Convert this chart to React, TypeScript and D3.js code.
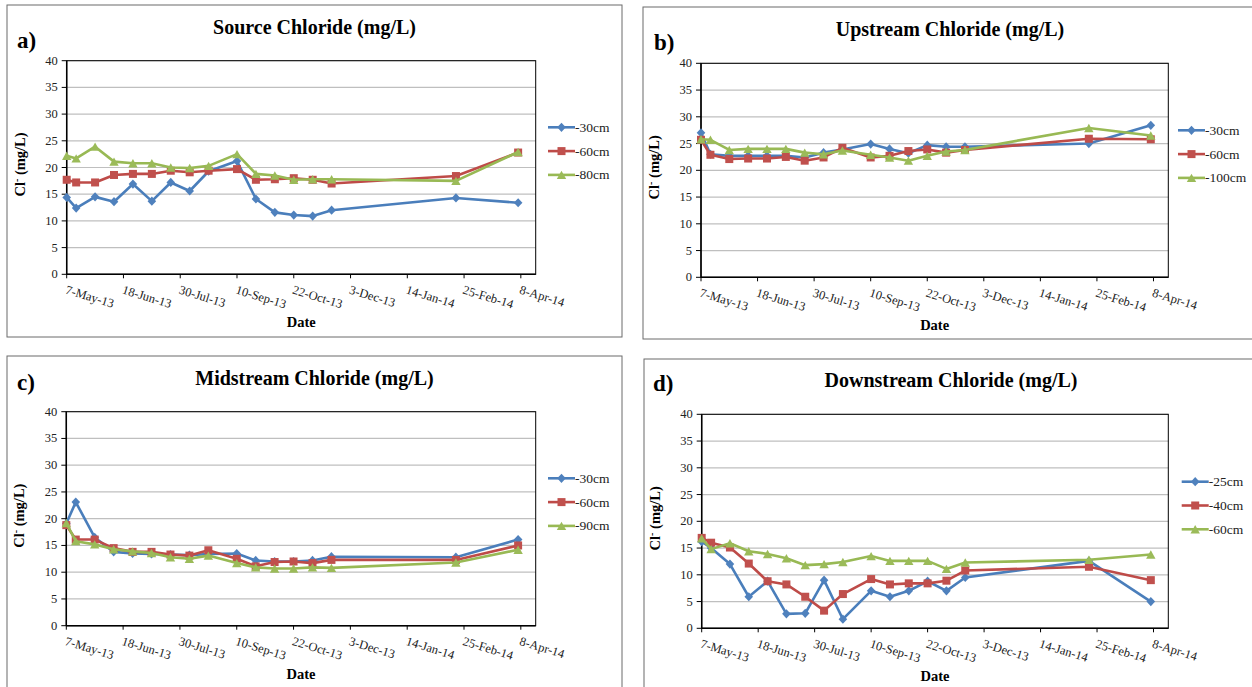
import React from "react";
import * as d3 from "d3";

// ---- data ----
const sampleDates = [
  "2013-05-07", "2013-05-14", "2013-05-28", "2013-06-11", "2013-06-25", "2013-07-09",
  "2013-07-23", "2013-08-06", "2013-08-20", "2013-09-10", "2013-09-24", "2013-10-08",
  "2013-10-22", "2013-11-05", "2013-11-19", "2014-02-19", "2014-04-06",
];

const sourceDepths = ["-30cm", "-60cm", "-80cm"];
const source30 = [14.4, 12.4, 14.5, 13.6, 16.9, 13.7, 17.2, 15.6, 19.3, 21.2, 14.1, 11.6, 11.1, 10.9, 12.0, 14.3, 13.4];
const source60 = [17.7, 17.2, 17.2, 18.6, 18.8, 18.8, 19.4, 19.1, 19.4, 19.7, 17.7, 17.8, 18.0, 17.7, 17.0, 18.4, 22.8];
const source80 = [22.2, 21.7, 23.9, 21.1, 20.8, 20.8, 20.0, 19.9, 20.3, 22.5, 18.8, 18.5, 17.7, 17.8, 17.8, 17.5, 22.9];

const upDepths = ["-30cm", "-60cm", "-100cm"];
const up30 = [27.0, 23.0, 22.7, 22.7, 22.7, 22.7, 22.4, 23.3, 23.9, 24.9, 24.0, 23.2, 24.7, 24.4, 24.4, 25.0, 28.4];
const up60 = [25.7, 22.9, 22.1, 22.2, 22.2, 22.5, 21.8, 22.4, 24.2, 22.4, 22.7, 23.6, 23.9, 23.3, 23.8, 25.9, 25.8];
const up100 = [25.8, 25.7, 23.8, 24.0, 24.0, 24.0, 23.3, 23.0, 23.7, 22.9, 22.4, 21.8, 22.7, 23.5, 23.8, 27.9, 26.5];

const midDepths = ["-30cm", "-60cm", "-90cm"];
const mid30 = [19.1, 23.1, 16.5, 13.8, 13.5, 13.4, 13.3, 13.2, 13.4, 13.5, 12.2, 12.0, 12.0, 12.2, 12.9, 12.8, 16.1];
const mid60 = [18.8, 16.1, 16.1, 14.5, 13.8, 13.8, 13.3, 13.1, 14.1, 12.5, 11.1, 11.9, 12.0, 11.7, 12.3, 12.3, 15.0];
const mid90 = [19.2, 15.8, 15.2, 14.3, 13.9, 13.6, 12.8, 12.5, 13.1, 11.7, 10.9, 10.7, 10.7, 10.9, 10.8, 11.8, 14.2];

const downDepths = ["-25cm", "-40cm", "-60cm"];
const down25 = [16.2, 15.0, 12.0, 5.9, 8.8, 2.7, 2.8, 9.0, 1.7, 7.0, 5.9, 7.0, 8.8, 7.0, 9.5, 12.6, 5.0];
const down40 = [16.9, 16.0, 15.1, 12.1, 8.8, 8.2, 5.9, 3.3, 6.4, 9.2, 8.2, 8.4, 8.4, 8.9, 10.8, 11.5, 9.0];
const down60 = [16.8, 14.8, 15.9, 14.4, 13.9, 13.1, 11.8, 12.0, 12.4, 13.5, 12.6, 12.6, 12.6, 11.1, 12.3, 12.8, 13.8];

const yTicks = [0, 5, 10, 15, 20, 25, 30, 35, 40];
const axisStart = "2013-05-07";
const axisEnd = "2014-04-19";
const tickStepDays = 42;
const tickCount = 9;

// ---- layout/style ----
const FONT = "Liberation Serif, Times New Roman, Times, DejaVu Serif, serif";
const seriesStyle = [
  { line: "#4A7EBB", fill: "#4F81BD", shape: "diamond" },
  { line: "#BE4B48", fill: "#C0504D", shape: "square" },
  { line: "#98B954", fill: "#9BBB59", shape: "triangle" },
];

const panels = [
  {
    tag: "a)", title: "Source Chloride (mg/L)", depths: sourceDepths, series: [source30, source60, source80],
    border: [7, 5, 615, 332], plot: [66.7, 60.7, 535.7, 274.3], legend: [548, 127.3], tagPos: [17, 48],
  },
  {
    tag: "b)", title: "Upstream Chloride (mg/L)", depths: upDepths, series: [up30, up60, up100],
    border: [643, 7, 620, 332], plot: [701, 63.3, 1168.3, 277.3], legend: [1178, 130.3], tagPos: [654, 50],
  },
  {
    tag: "c)", title: "Midstream Chloride (mg/L)", depths: midDepths, series: [mid30, mid60, mid90],
    border: [7, 356, 615, 340], plot: [66.3, 411.7, 535.7, 625.7], legend: [548, 478.3], tagPos: [17, 390],
  },
  {
    tag: "d)", title: "Downstream Chloride (mg/L)", depths: downDepths, series: [down25, down40, down60],
    border: [644, 359, 620, 340], plot: [701.7, 414.3, 1168.3, 628.3], legend: [1181.7, 481.7], tagPos: [653, 391],
  },
];

const parse = d3.utcParse("%Y-%m-%d");
const fmt = d3.utcFormat("%-d-%b-%y");

function marker(shape: string, x: number, y: number, color: string, key?: any) {
  if (shape === "diamond") {
    const w = 4.3, h = 4.6;
    return <path key={key} d={`M${x},${y - h}L${x + w},${y}L${x},${y + h}L${x - w},${y}Z`} fill={color} />;
  }
  if (shape === "square") {
    const s = 4;
    return <rect key={key} x={x - s} y={y - s} width={2 * s} height={2 * s} fill={color} />;
  }
  const w = 4.7, h = 4.2;
  return <path key={key} d={`M${x},${y - h}L${x + w},${y + h}L${x - w},${y + h}Z`} fill={color} />;
}

function Panel({ p }: { p: any }) {
  const [bx, by, bw, bh] = p.border;
  const [x0, y0, x1, y1] = p.plot;
  const start = parse(axisStart)!;
  const end = parse(axisEnd)!;
  const x = d3.scaleUtc().domain([start, end]).range([x0, x1]);
  const y = d3.scaleLinear().domain([0, 40]).range([y1, y0]);
  const dates = sampleDates.map((d) => parse(d)!);
  const xTicks = d3.range(tickCount).map((i) => d3.utcDay.offset(start, i * tickStepDays));
  const line = d3.line<number>().x((_, i) => x(dates[i])).y((v) => y(v));
  const cx = (x0 + x1) / 2;
  const cy = (y0 + y1) / 2;
  return (
    <g>
      <rect x={bx} y={by} width={bw} height={bh} fill="#fff" stroke="#6b6b6b" strokeWidth={1} />
      <text x={p.tagPos[0]} y={p.tagPos[1]} fontWeight="bold" fontSize={23}>{p.tag}</text>
      <text x={bx + bw / 2 - (bw > 616 ? 3 : 0)} y={y0 - 27} textAnchor="middle" fontWeight="bold" fontSize={20}>{p.title}</text>
      {yTicks.filter((t) => t > 0).map((t) => (
        <line key={t} x1={x0} x2={x1} y1={y(t)} y2={y(t)} stroke="#BFBFBF" strokeWidth={1.2} />
      ))}
      <rect x={x0} y={y0} width={x1 - x0} height={y1 - y0} fill="none" stroke="#000" strokeWidth={1} />
      {yTicks.map((t) => (
        <g key={t}>
          <line x1={x0 - 5} x2={x0} y1={y(t)} y2={y(t)} stroke="#000" strokeWidth={1} />
          <text x={x0 - 9} y={y(t) + 4} textAnchor="end" fontSize={12.5} fill="#222">{t}</text>
        </g>
      ))}
      <line x1={x0} x2={x0} y1={y0} y2={y1} stroke="#000" strokeWidth={1.5} />
      <line x1={x0} x2={x1} y1={y1} y2={y1} stroke="#000" strokeWidth={1.5} />
      {xTicks.map((t, i) => (
        <g key={i}>
          <line x1={x(t)} x2={x(t)} y1={y1} y2={y1 + 4} stroke="#000" strokeWidth={1} />
          <text transform={`translate(${x(t) - 2},${y1 + 19}) rotate(17)`} fontSize={12.5} fill="#222">{fmt(t)}</text>
        </g>
      ))}
      {p.series.map((vals: number[], si: number) => (
        <g key={si}>
          <path d={line(vals) || ""} fill="none" stroke={seriesStyle[si].line} strokeWidth={2.6} strokeLinejoin="round" />
          {vals.map((v, i) => marker(seriesStyle[si].shape, x(dates[i]), y(v), seriesStyle[si].fill, i))}
        </g>
      ))}
      <text transform={`translate(${x0 - 42},${cy - 3}) rotate(-90)`} textAnchor="middle" fontWeight="bold" fontSize={14.5}>
        Cl<tspan dy={-5} fontSize={10}>-</tspan><tspan dy={5}> (mg/L)</tspan>
      </text>
      <text x={cx} y={y1 + 53} textAnchor="middle" fontWeight="bold" fontSize={14.5}>Date</text>
      {p.depths.map((d: string, i: number) => {
        const ly = p.legend[1] + i * 23.8;
        const lx = p.legend[0];
        return (
          <g key={d}>
            <line x1={lx} x2={lx + 27} y1={ly} y2={ly} stroke={seriesStyle[i].line} strokeWidth={2.6} />
            {marker(seriesStyle[i].shape, lx + 13.5, ly, seriesStyle[i].fill)}
            <text x={lx + 27} y={ly + 4.5} fontSize={13.5} fill="#222">{d}</text>
          </g>
        );
      })}
    </g>
  );
}

export default function App() {
  return (
    <svg width={1252} height={687} style={{ position: "absolute", left: 0, top: 0, background: "#fff", fontFamily: FONT }}>
      <rect x={0} y={0} width={1252} height={687} fill="#fff" />
      {panels.map((p, i) => <Panel key={i} p={p} />)}
    </svg>
  );
}
